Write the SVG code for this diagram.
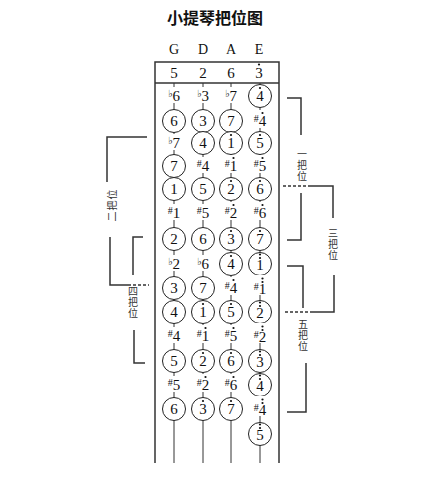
<svg xmlns="http://www.w3.org/2000/svg" width="447" height="477" viewBox="0 0 447 477">
<style>
.c{fill:#fff;stroke:#222;stroke-width:1}
.bg{fill:#fff}
.dot{fill:#111}
.n{font-family:"Liberation Serif","DejaVu Serif",serif;font-size:15px;text-anchor:middle;fill:#111}
.a{font-size:10px}
.f{font-family:"DejaVu Sans",sans-serif;font-size:10px}
.str{stroke:#333;stroke-width:1;fill:none}
.br{stroke:#333;stroke-width:1.5;fill:none}
.ds{stroke-dasharray:3 2}
.lab{font-family:"Noto Sans CJK SC",sans-serif;font-size:10px;fill:#333;text-anchor:middle}
.v{writing-mode:vertical-rl;text-orientation:upright;letter-spacing:1px}
.hd{font-family:"Liberation Serif",serif;font-size:14px;text-anchor:middle;fill:#111}
</style>
<rect width="447" height="477" fill="#fff"/>
<g id="title"><text x="215" y="24" font-family="Noto Sans CJK SC, sans-serif" font-size="16" font-weight="bold" text-anchor="middle" fill="#111">小提琴把位图</text></g>
<g id="strings-header">
<text class="hd" x="174" y="54">G</text><text class="hd" x="203" y="54">D</text><text class="hd" x="231" y="54">A</text><text class="hd" x="259" y="54">E</text>
</g>
<g id="frame">
<path class="br" d="M155,463V62H279V463"/>
<line class="br" x1="155" y1="83" x2="279" y2="83"/>
<text class="n" x="174" y="78">5</text><text class="n" x="203" y="78">2</text><text class="n" x="231" y="78">6</text><text class="n" x="259" y="78">3</text><circle class="dot" cx="259" cy="64.5" r="1.1"/>
</g>
<g id="connectors">
<line class="str" x1="174" y1="83" x2="174" y2="463"/>
<line class="str" x1="203" y1="83" x2="203" y2="463"/>
<line class="str" x1="231" y1="83" x2="231" y2="463"/>
<line class="str" x1="260" y1="83" x2="260" y2="463"/>
<path class="br" d="M147,137H107V182"/>
<path class="br" d="M110,237V285H128"/>
<path class="br ds" d="M128,285H149"/>
<path class="br" d="M143,237H133V275"/>
<path class="br" d="M134,330V363H145"/>
<path class="br" d="M287,98H301V135"/>
<path class="br" d="M301,193V240H287"/>
<path class="br ds" d="M283,186H310"/>
<path class="br" d="M310,186H333V218"/>
<path class="br" d="M334,275V312H313"/>
<path class="br ds" d="M313,312H285"/>
<path class="br" d="M287,266H303V308"/>
<path class="br" d="M306,363V412H287"/>
</g>
<g id="pos2"><text class="lab" font-size="12" letter-spacing="1" transform="translate(116,205) rotate(-90)">二把位</text></g>
<g id="pos4"><text class="lab v" x="133" y="303">四把位</text></g>
<g id="pos1"><text class="lab v" x="302" y="166" font-size="9">一把位</text></g>
<g id="pos3"><text class="lab v" x="333" y="245">三把位</text></g>
<g id="pos5"><text class="lab v" x="303" y="336">五把位</text></g>

<g id="G0"><rect class="bg" x="164" y="87" width="20" height="16"/><text class="n" x="174" y="101"><tspan class="f" dy="-4">♭</tspan><tspan dy="4">6</tspan></text></g>
<g id="D0"><rect class="bg" x="193" y="87" width="20" height="16"/><text class="n" x="203" y="101"><tspan class="f" dy="-4">♭</tspan><tspan dy="4">3</tspan></text></g>
<g id="A0"><rect class="bg" x="221" y="87" width="20" height="16"/><text class="n" x="231" y="101"><tspan class="f" dy="-4">♭</tspan><tspan dy="4">7</tspan></text></g>
<g id="E0"><circle class="c" cx="260" cy="96" r="11.5"/><text class="n" x="260" y="101">4</text><circle class="dot" cx="260" cy="88" r="1.1"/></g>

<g id="G1"><circle class="c" cx="174" cy="121" r="11.5"/><text class="n" x="174" y="126">6</text></g>
<g id="D1"><circle class="c" cx="203" cy="121" r="11.5"/><text class="n" x="203" y="126">3</text></g>
<g id="A1"><circle class="c" cx="231" cy="121" r="11.5"/><text class="n" x="231" y="126">7</text></g>
<g id="E1"><rect class="bg" x="250" y="110" width="20" height="18"/><text class="n" x="260" y="126"><tspan class="a" dy="-4">#</tspan><tspan dy="4">4</tspan></text><circle class="dot" cx="262.5" cy="113" r="1.1"/></g>

<g id="G2"><rect class="bg" x="164" y="134" width="20" height="16"/><text class="n" x="174" y="148"><tspan class="f" dy="-4">♭</tspan><tspan dy="4">7</tspan></text></g>
<g id="D2"><circle class="c" cx="203" cy="143" r="11.5"/><text class="n" x="203" y="148">4</text></g>
<g id="A2"><circle class="c" cx="231" cy="143" r="11.5"/><text class="n" x="231" y="148">1</text><circle class="dot" cx="231" cy="135" r="1.1"/></g>
<g id="E2"><circle class="c" cx="260" cy="143" r="11.5"/><text class="n" x="260" y="148">5</text><circle class="dot" cx="260" cy="135" r="1.1"/></g>

<g id="G3"><circle class="c" cx="174" cy="166" r="11.5"/><text class="n" x="174" y="171">7</text></g>
<g id="D3"><rect class="bg" x="193" y="157" width="20" height="16"/><text class="n" x="203" y="171"><tspan class="a" dy="-4">#</tspan><tspan dy="4">4</tspan></text></g>
<g id="A3"><rect class="bg" x="221" y="155" width="20" height="18"/><text class="n" x="231" y="171"><tspan class="a" dy="-4">#</tspan><tspan dy="4">1</tspan></text><circle class="dot" cx="233.5" cy="158" r="1.1"/></g>
<g id="E3"><rect class="bg" x="250" y="155" width="20" height="18"/><text class="n" x="260" y="171"><tspan class="a" dy="-4">#</tspan><tspan dy="4">5</tspan></text><circle class="dot" cx="262.5" cy="158" r="1.1"/></g>

<g id="G4"><circle class="c" cx="174" cy="189" r="11.5"/><text class="n" x="174" y="194">1</text></g>
<g id="D4"><circle class="c" cx="203" cy="189" r="11.5"/><text class="n" x="203" y="194">5</text></g>
<g id="A4"><circle class="c" cx="231" cy="189" r="11.5"/><text class="n" x="231" y="194">2</text><circle class="dot" cx="231" cy="181" r="1.1"/></g>
<g id="E4"><circle class="c" cx="260" cy="189" r="11.5"/><text class="n" x="260" y="194">6</text><circle class="dot" cx="260" cy="181" r="1.1"/></g>

<g id="G5"><rect class="bg" x="164" y="204" width="20" height="16"/><text class="n" x="174" y="218"><tspan class="a" dy="-4">#</tspan><tspan dy="4">1</tspan></text></g>
<g id="D5"><rect class="bg" x="193" y="204" width="20" height="16"/><text class="n" x="203" y="218"><tspan class="a" dy="-4">#</tspan><tspan dy="4">5</tspan></text></g>
<g id="A5"><rect class="bg" x="221" y="202" width="20" height="18"/><text class="n" x="231" y="218"><tspan class="a" dy="-4">#</tspan><tspan dy="4">2</tspan></text><circle class="dot" cx="233.5" cy="205" r="1.1"/></g>
<g id="E5"><rect class="bg" x="250" y="202" width="20" height="18"/><text class="n" x="260" y="218"><tspan class="a" dy="-4">#</tspan><tspan dy="4">6</tspan></text><circle class="dot" cx="262.5" cy="205" r="1.1"/></g>

<g id="G6"><circle class="c" cx="174" cy="239" r="11.5"/><text class="n" x="174" y="244">2</text></g>
<g id="D6"><circle class="c" cx="203" cy="239" r="11.5"/><text class="n" x="203" y="244">6</text></g>
<g id="A6"><circle class="c" cx="231" cy="239" r="11.5"/><text class="n" x="231" y="244">3</text><circle class="dot" cx="231" cy="231" r="1.1"/></g>
<g id="E6"><circle class="c" cx="260" cy="239" r="11.5"/><text class="n" x="260" y="244">7</text><circle class="dot" cx="260" cy="231" r="1.1"/></g>

<g id="G7"><rect class="bg" x="164" y="255" width="20" height="16"/><text class="n" x="174" y="269"><tspan class="f" dy="-4">♭</tspan><tspan dy="4">2</tspan></text></g>
<g id="D7"><rect class="bg" x="193" y="255" width="20" height="16"/><text class="n" x="203" y="269"><tspan class="f" dy="-4">♭</tspan><tspan dy="4">6</tspan></text></g>
<g id="A7"><circle class="c" cx="231" cy="264" r="11.5"/><text class="n" x="231" y="269">4</text><circle class="dot" cx="231" cy="256" r="1.1"/></g>
<g id="E7"><circle class="c" cx="260" cy="264" r="11.5"/><text class="n" x="260" y="270">1</text><circle class="dot" cx="260" cy="258" r="1.1"/><circle class="dot" cx="260" cy="254.5" r="1.1"/></g>

<g id="G8"><circle class="c" cx="174" cy="288" r="11.5"/><text class="n" x="174" y="293">3</text></g>
<g id="D8"><circle class="c" cx="203" cy="288" r="11.5"/><text class="n" x="203" y="293">7</text></g>
<g id="A8"><rect class="bg" x="221" y="277" width="20" height="18"/><text class="n" x="231" y="293"><tspan class="a" dy="-4">#</tspan><tspan dy="4">4</tspan></text><circle class="dot" cx="233.5" cy="280" r="1.1"/></g>
<g id="E8"><rect class="bg" x="250" y="275" width="20" height="20"/><text class="n" x="260" y="294"><tspan class="a" dy="-4">#</tspan><tspan dy="4">1</tspan></text><circle class="dot" cx="262.5" cy="282" r="1.1"/><circle class="dot" cx="262.5" cy="278.5" r="1.1"/></g>

<g id="G9"><circle class="c" cx="174" cy="312" r="11.5"/><text class="n" x="174" y="317">4</text></g>
<g id="D9"><circle class="c" cx="203" cy="312" r="11.5"/><text class="n" x="203" y="317">1</text><circle class="dot" cx="203" cy="304" r="1.1"/></g>
<g id="A9"><circle class="c" cx="231" cy="312" r="11.5"/><text class="n" x="231" y="317">5</text><circle class="dot" cx="231" cy="304" r="1.1"/></g>
<g id="E9"><circle class="c" cx="260" cy="312" r="11.5"/><text class="n" x="260" y="318">2</text><circle class="dot" cx="260" cy="306" r="1.1"/><circle class="dot" cx="260" cy="302.5" r="1.1"/></g>

<g id="G10"><rect class="bg" x="164" y="327" width="20" height="16"/><text class="n" x="174" y="341"><tspan class="a" dy="-4">#</tspan><tspan dy="4">4</tspan></text></g>
<g id="D10"><rect class="bg" x="193" y="325" width="20" height="18"/><text class="n" x="203" y="341"><tspan class="a" dy="-4">#</tspan><tspan dy="4">1</tspan></text><circle class="dot" cx="205.5" cy="328" r="1.1"/></g>
<g id="A10"><rect class="bg" x="221" y="325" width="20" height="18"/><text class="n" x="231" y="341"><tspan class="a" dy="-4">#</tspan><tspan dy="4">5</tspan></text><circle class="dot" cx="233.5" cy="328" r="1.1"/></g>
<g id="E10"><rect class="bg" x="250" y="323" width="20" height="20"/><text class="n" x="260" y="342"><tspan class="a" dy="-4">#</tspan><tspan dy="4">2</tspan></text><circle class="dot" cx="262.5" cy="330" r="1.1"/><circle class="dot" cx="262.5" cy="326.5" r="1.1"/></g>

<g id="G11"><circle class="c" cx="174" cy="361" r="11.5"/><text class="n" x="174" y="366">5</text></g>
<g id="D11"><circle class="c" cx="203" cy="361" r="11.5"/><text class="n" x="203" y="366">2</text><circle class="dot" cx="203" cy="353" r="1.1"/></g>
<g id="A11"><circle class="c" cx="231" cy="361" r="11.5"/><text class="n" x="231" y="366">6</text><circle class="dot" cx="231" cy="353" r="1.1"/></g>
<g id="E11"><circle class="c" cx="260" cy="361" r="11.5"/><text class="n" x="260" y="367">3</text><circle class="dot" cx="260" cy="355" r="1.1"/><circle class="dot" cx="260" cy="351.5" r="1.1"/></g>

<g id="G12"><rect class="bg" x="164" y="376" width="20" height="16"/><text class="n" x="174" y="390"><tspan class="a" dy="-4">#</tspan><tspan dy="4">5</tspan></text></g>
<g id="D12"><rect class="bg" x="193" y="374" width="20" height="18"/><text class="n" x="203" y="390"><tspan class="a" dy="-4">#</tspan><tspan dy="4">2</tspan></text><circle class="dot" cx="205.5" cy="377" r="1.1"/></g>
<g id="A12"><rect class="bg" x="221" y="374" width="20" height="18"/><text class="n" x="231" y="390"><tspan class="a" dy="-4">#</tspan><tspan dy="4">6</tspan></text><circle class="dot" cx="233.5" cy="377" r="1.1"/></g>
<g id="E12"><circle class="c" cx="260" cy="385" r="11.5"/><text class="n" x="260" y="391">4</text><circle class="dot" cx="260" cy="379" r="1.1"/><circle class="dot" cx="260" cy="375.5" r="1.1"/></g>

<g id="G13"><circle class="c" cx="174" cy="409" r="11.5"/><text class="n" x="174" y="414">6</text></g>
<g id="D13"><circle class="c" cx="203" cy="409" r="11.5"/><text class="n" x="203" y="414">3</text><circle class="dot" cx="203" cy="401" r="1.1"/></g>
<g id="A13"><circle class="c" cx="231" cy="409" r="11.5"/><text class="n" x="231" y="414">7</text><circle class="dot" cx="231" cy="401" r="1.1"/></g>
<g id="E13"><rect class="bg" x="250" y="396" width="20" height="20"/><text class="n" x="260" y="415"><tspan class="a" dy="-4">#</tspan><tspan dy="4">4</tspan></text><circle class="dot" cx="262.5" cy="403" r="1.1"/><circle class="dot" cx="262.5" cy="399.5" r="1.1"/></g>

<g id="E14"><circle class="c" cx="260" cy="434" r="11.5"/><text class="n" x="260" y="440">5</text><circle class="dot" cx="260" cy="428" r="1.1"/><circle class="dot" cx="260" cy="424.5" r="1.1"/></g>
</svg>
